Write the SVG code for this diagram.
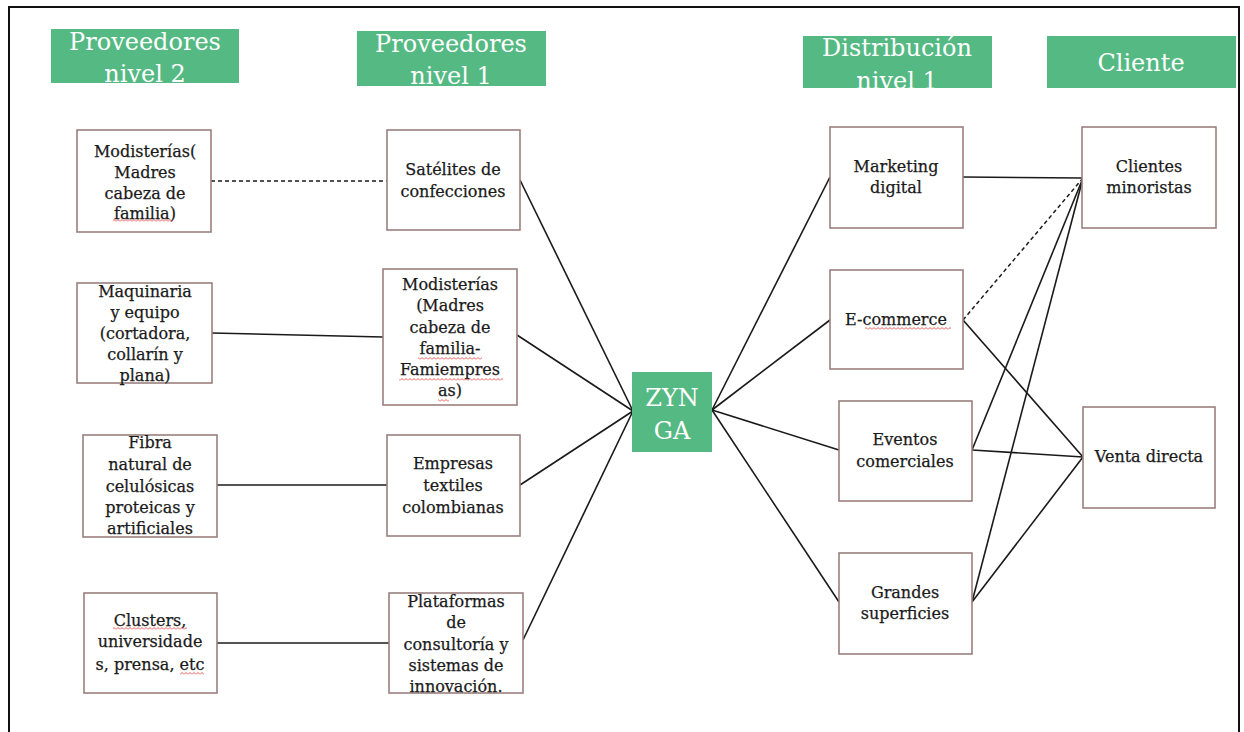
<svg xmlns="http://www.w3.org/2000/svg" width="1244" height="732" viewBox="0 0 1244 732">
<style>
.hdr{fill:#55B983}
.hdrt{font-family:"DejaVu Serif","Liberation Serif",serif;font-size:24px;fill:#ffffff;text-anchor:middle}
.box{fill:#ffffff;stroke:#9a7f7f;stroke-width:1.6}
.bt{font-family:"DejaVu Serif","Liberation Serif",serif;font-size:16px;fill:#1a1a1a;stroke:#1a1a1a;stroke-width:0.25;text-anchor:middle}
.ln{stroke:#1a1a1a;stroke-width:1.6;fill:none}
.dash{stroke:#1a1a1a;stroke-width:1.5;fill:none;stroke-dasharray:4 3}
.sq{fill:url(#squig)}
</style>
<defs>
<pattern id="squig" patternUnits="userSpaceOnUse" width="4" height="3">
<path d="M0,2.5 L2,0.5 L4,2.5" stroke="#e03030" stroke-width="0.8" fill="none"/>
</pattern>
</defs>
<rect x="0" y="0" width="1244" height="732" fill="#ffffff"/>
<path d="M9,733 V7 H1239 V733" fill="none" stroke="#111111" stroke-width="2"/>

<g id="connectors">
<line class="dash" x1="211" y1="181" x2="387" y2="181"/>
<line class="ln" x1="212" y1="333" x2="383" y2="337"/>
<line class="ln" x1="217" y1="485" x2="387" y2="485"/>
<line class="ln" x1="217" y1="643" x2="389" y2="643"/>
<line class="ln" x1="520" y1="180" x2="633" y2="411"/>
<line class="ln" x1="517" y1="335" x2="633" y2="411"/>
<line class="ln" x1="520" y1="485" x2="633" y2="411"/>
<line class="ln" x1="523" y1="640" x2="633" y2="411"/>
<line class="ln" x1="712" y1="410" x2="830" y2="177"/>
<line class="ln" x1="712" y1="410" x2="830" y2="320"/>
<line class="ln" x1="712" y1="410" x2="839" y2="450"/>
<line class="ln" x1="712" y1="410" x2="839" y2="602"/>
<line class="ln" x1="963" y1="177" x2="1083" y2="178"/>
<line class="dash" x1="963" y1="320" x2="1083" y2="178"/>
<line class="ln" x1="963" y1="320" x2="1083" y2="457"/>
<line class="ln" x1="972" y1="450" x2="1083" y2="178"/>
<line class="ln" x1="972" y1="450" x2="1083" y2="457"/>
<line class="ln" x1="972" y1="602" x2="1083" y2="178"/>
<line class="ln" x1="972" y1="602" x2="1083" y2="457"/>
</g>

<g id="hdr-prov2">
<rect class="hdr" x="51" y="29" width="188" height="54"/>
<text class="hdrt" x="145" y="50">Proveedores</text>
<text class="hdrt" x="145" y="82">nivel 2</text>
</g>
<g id="hdr-prov1">
<rect class="hdr" x="357" y="31" width="189" height="55"/>
<text class="hdrt" x="451" y="52">Proveedores</text>
<text class="hdrt" x="451" y="84">nivel 1</text>
</g>
<g id="hdr-dist1">
<rect class="hdr" x="803" y="36" width="189" height="52"/>
<text class="hdrt" x="897" y="56">Distribución</text>
<text class="hdrt" x="897" y="89">nivel 1</text>
</g>
<g id="hdr-cliente">
<rect class="hdr" x="1047" y="36" width="189" height="52"/>
<text class="hdrt" x="1141" y="71">Cliente</text>
</g>

<g id="modisterias2">
<rect class="box" x="77" y="130" width="134" height="102"/>
<text class="bt" x="145" y="157">Modisterías(</text>
<text class="bt" x="145" y="178">Madres</text>
<text class="bt" x="145" y="199">cabeza de</text>
<text class="bt" x="145" y="219">familia)</text>
<rect class="sq" x="113" y="219" width="60" height="3"/>
</g>
<g id="maquinaria">
<rect class="box" x="77" y="283" width="135" height="100"/>
<text class="bt" x="145" y="297">Maquinaria</text>
<text class="bt" x="145" y="318">y equipo</text>
<text class="bt" x="145" y="339">(cortadora,</text>
<text class="bt" x="145" y="360">collarín y</text>
<text class="bt" x="145" y="381">plana)</text>
</g>
<g id="fibra">
<rect class="box" x="83" y="435" width="134" height="102"/>
<text class="bt" x="150" y="448">Fibra</text>
<text class="bt" x="150" y="470">natural de</text>
<text class="bt" x="150" y="492">celulósicas</text>
<text class="bt" x="150" y="513">proteicas y</text>
<text class="bt" x="150" y="534">artificiales</text>
</g>
<g id="clusters">
<rect class="box" x="84" y="593" width="133" height="100"/>
<text class="bt" x="150" y="626">Clusters,</text>
<text class="bt" x="150" y="647">universidade</text>
<text class="bt" x="150" y="670">s, prensa, etc</text>
<rect class="sq" x="113" y="627" width="74" height="3"/>
<rect class="sq" x="180" y="672" width="24" height="3"/>
</g>

<g id="satelites">
<rect class="box" x="387" y="130" width="133" height="100"/>
<text class="bt" x="453" y="175">Satélites de</text>
<text class="bt" x="453" y="197">confecciones</text>
</g>
<g id="modisterias1">
<rect class="box" x="383" y="269" width="134" height="136"/>
<text class="bt" x="450" y="290">Modisterías</text>
<text class="bt" x="450" y="311">(Madres</text>
<text class="bt" x="450" y="333">cabeza de</text>
<text class="bt" x="450" y="354">familia-</text>
<text class="bt" x="450" y="375">Famiempres</text>
<text class="bt" x="450" y="396">as)</text>
<rect class="sq" x="418" y="357" width="64" height="3"/>
<rect class="sq" x="399" y="378" width="104" height="3"/>
<rect class="sq" x="438" y="399" width="11" height="3"/>
</g>
<g id="empresas">
<rect class="box" x="387" y="435" width="133" height="101"/>
<text class="bt" x="453" y="469">Empresas</text>
<text class="bt" x="453" y="491">textiles</text>
<text class="bt" x="453" y="513">colombianas</text>
</g>
<g id="plataformas">
<rect class="box" x="389" y="593" width="134" height="100"/>
<text class="bt" x="456" y="607">Plataformas</text>
<text class="bt" x="456" y="628">de</text>
<text class="bt" x="456" y="650">consultoría y</text>
<text class="bt" x="456" y="671">sistemas de</text>
<text class="bt" x="456" y="692">innovación.</text>
</g>

<g id="zynga">
<rect class="hdr" x="632" y="372" width="80" height="80"/>
<text class="hdrt" x="672" y="406">ZYN</text>
<text class="hdrt" x="672" y="439">GA</text>
</g>

<g id="marketing">
<rect class="box" x="830" y="127" width="133" height="101"/>
<text class="bt" x="896" y="172">Marketing</text>
<text class="bt" x="896" y="193">digital</text>
</g>
<g id="ecommerce">
<rect class="box" x="830" y="270" width="133" height="99"/>
<text class="bt" x="896" y="325">E-commerce</text>
<rect class="sq" x="865" y="327" width="86" height="3"/>
</g>
<g id="eventos">
<rect class="box" x="839" y="401" width="133" height="100"/>
<text class="bt" x="905" y="445">Eventos</text>
<text class="bt" x="905" y="467">comerciales</text>
</g>
<g id="grandes">
<rect class="box" x="839" y="553" width="133" height="101"/>
<text class="bt" x="905" y="598">Grandes</text>
<text class="bt" x="905" y="619">superficies</text>
</g>

<g id="minoristas">
<rect class="box" x="1082" y="127" width="134" height="101"/>
<text class="bt" x="1149" y="172">Clientes</text>
<text class="bt" x="1149" y="193">minoristas</text>
</g>
<g id="venta">
<rect class="box" x="1083" y="407" width="132" height="101"/>
<text class="bt" x="1149" y="462">Venta directa</text>
</g>
</svg>
